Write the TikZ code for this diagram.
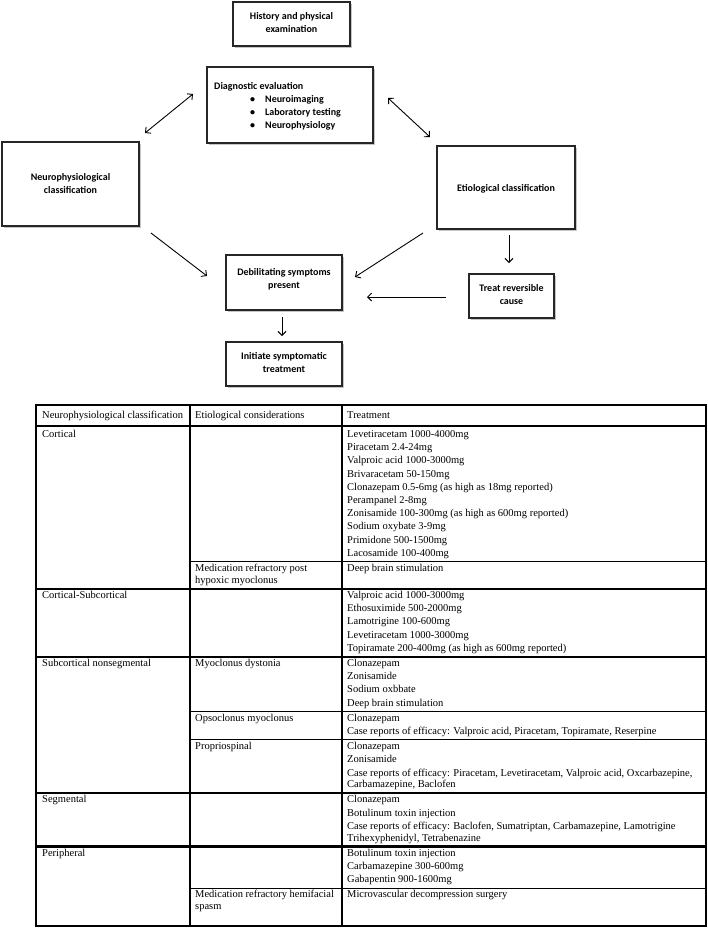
\documentclass[tikz,border=0pt]{standalone}
\usepackage{fontspec}
\setmainfont{Liberation Serif}
\newfontfamily\boxfont{Carlito}
\usetikzlibrary{arrows.meta,shadows}
\newcommand\ctext[2]{\parbox[t]{#1}{\centering #2}}
\newcommand\ltext[2]{\parbox[t]{#1}{\raggedright #2}}
\newcommand\nextitem{\\[1.5pt]}
\tikzset{
  flowbox/.style={draw=black!85, line width=1.5pt, fill=white, inner sep=0pt,
    drop shadow={shadow xshift=2pt, shadow yshift=-2pt, fill=black!45}},
  flowtext/.style={inner sep=0pt, anchor=base, font=\boxfont\bfseries\fontsize{10}{13}\selectfont},
  flowtextl/.style={inner sep=0pt, anchor=base west, font=\boxfont\bfseries\fontsize{10}{13}\selectfont},
  arr/.style={line width=0.9pt, -{Straight Barb[length=4pt,width=8pt]}},
  darr/.style={line width=0.9pt, {Straight Barb[length=4pt,width=8pt]}-{Straight Barb[length=4pt,width=8pt]}},
  cell/.style={inner sep=0pt, anchor=base west, font=\fontsize{10.5}{11.7}\selectfont},
  thickrule/.style={line width=2.4pt},
  thinrule/.style={line width=1pt},
  colrule/.style={line width=1.6pt}
}
\begin{document}
\begin{tikzpicture}[x=1pt,y=-1pt]
\useasboundingbox (0,0) rectangle (708,935);
% ---------- flowchart boxes ----------
\node[flowbox, minimum width=117pt, minimum height=44pt] (hist) at (291.5,24) {};
\node[flowbox, minimum width=166pt, minimum height=76pt] (diag) at (290,105) {};
\node[flowbox, minimum width=137pt, minimum height=84pt] (neuro) at (70.5,184) {};
\node[flowbox, minimum width=138pt, minimum height=83pt] (etio) at (506,187.5) {};
\node[flowbox, minimum width=116pt, minimum height=55pt] (debil) at (284,282.5) {};
\node[flowbox, minimum width=116pt, minimum height=44pt] (init) at (284,364) {};
\node[flowbox, minimum width=85pt, minimum height=44pt] (treat) at (511.5,296) {};
% ---------- flowchart texts ----------
\node[flowtext] (histT) at (291.5,19) {\ctext{110pt}{History and physical\\examination}};
\node[flowtextl] (diagT) at (214,89) {\ltext{155pt}{Diagnostic evaluation\\
\hspace*{36pt}\makebox[15pt][l]{•}Neuroimaging\\
\hspace*{36pt}\makebox[15pt][l]{•}Laboratory testing\\
\hspace*{36pt}\makebox[15pt][l]{•}Neurophysiology}};
\node[flowtext] (neuroT) at (70.5,180) {\ctext{130pt}{Neurophysiological\\classification}};
\node[flowtext] (etioT) at (506,191) {\ctext{130pt}{Etiological classification}};
\node[flowtext] (debilT) at (284,275) {\ctext{110pt}{Debilitating symptoms\\present}};
\node[flowtext] (initT) at (284,359) {\ctext{110pt}{Initiate symptomatic\\treatment}};
\node[flowtext] (treatT) at (511.5,291) {\ctext{80pt}{Treat reversible\\cause}};
% ---------- connectors ----------
\coordinate (a1s) at (145,133); \coordinate (a1e) at (193,94);
\coordinate (a2s) at (388,98);  \coordinate (a2e) at (430,137);
\coordinate (a3s) at (151,233); \coordinate (a3e) at (207,276);
\coordinate (a4s) at (423,233); \coordinate (a4e) at (355,277);
\coordinate (a5s) at (509,235); \coordinate (a5e) at (509,263);
\coordinate (a6s) at (446,297); \coordinate (a6e) at (367,297);
\coordinate (a7s) at (282,317); \coordinate (a7e) at (282,336);
\draw[darr] (a1s) -- (a1e);
\draw[darr] (a2s) -- (a2e);
\draw[arr] (a3s) -- (a3e);
\draw[arr] (a4s) -- (a4e);
\draw[arr] (a5s) -- (a5e);
\draw[arr] (a6s) -- (a6e);
\draw[arr] (a7s) -- (a7e);
% ---------- table rules ----------
\draw[colrule] (190,405) -- (190,926);
\draw[colrule] (342,405) -- (342,926);
\draw[thickrule] (36,426) -- (706,426);
\draw[thickrule] (36,588.7) -- (706,588.7);
\draw[thickrule] (36,656.7) -- (706,656.7);
\draw[thickrule] (36,793.2) -- (706,793.2);
\draw[thickrule] (36,846.5) -- (706,846.5);
\draw[thinrule] (190,561.8) -- (706,561.8);
\draw[thinrule] (190,711.5) -- (706,711.5);
\draw[thinrule] (190,739.9) -- (706,739.9);
\draw[thinrule] (190,888.1) -- (706,888.1);
\draw[thickrule] (36,405) rectangle (706,926);
% ---------- table text ----------
\node[cell] (h1) at (42,418) {Neurophysiological classification};
\node[cell] (h2) at (195,418) {Etiological considerations};
\node[cell] (h3) at (347,418) {Treatment};
\node[cell] (r1a) at (42,437.5) {Cortical};
\node[cell] (r1c) at (347,437.5) {\ltext{350pt}{Levetiracetam 1000-4000mg\nextitem
Piracetam 2.4-24mg\nextitem
Valproic acid 1000-3000mg\nextitem
Brivaracetam 50-150mg\nextitem
Clonazepam 0.5-6mg (as high as 18mg reported)\nextitem
Perampanel 2-8mg\nextitem
Zonisamide 100-300mg (as high as 600mg reported)\nextitem
Sodium oxybate 3-9mg\nextitem
Primidone 500-1500mg\nextitem
Lacosamide 100-400mg}};
\node[cell] (r2b) at (195,571.5) {\ltext{145pt}{Medication refractory post\\hypoxic myoclonus}};
\node[cell] (r2c) at (347,571.5) {Deep brain stimulation};
\node[cell] (r3a) at (42,598.4) {Cortical-Subcortical};
\node[cell] (r3c) at (347,598.4) {\ltext{350pt}{Valproic acid 1000-3000mg\nextitem
Ethosuximide 500-2000mg\nextitem
Lamotrigine 100-600mg\nextitem
Levetiracetam 1000-3000mg\nextitem
Topiramate 200-400mg (as high as 600mg reported)}};
\node[cell] (r4a) at (42,666.4) {Subcortical nonsegmental};
\node[cell] (r4b) at (195,666.4) {Myoclonus dystonia};
\node[cell] (r4c) at (347,666.4) {\ltext{350pt}{Clonazepam\nextitem
Zonisamide\nextitem
Sodium oxbbate\nextitem
Deep brain stimulation}};
\node[cell] (r5b) at (195,721.2) {Opsoclonus myoclonus};
\node[cell] (r5c) at (347,721.2) {\ltext{355pt}{Clonazepam\nextitem
Case reports of efficacy: Valproic acid, Piracetam, Topiramate, Reserpine}};
\node[cell] (r6b) at (195,749.6) {Propriospinal};
\node[cell] (r6c) at (347,749.6) {\ltext{355pt}{Clonazepam\nextitem
Zonisamide\nextitem
Case reports of efficacy: Piracetam, Levetiracetam, Valproic acid, Oxcarbazepine,\\
Carbamazepine, Baclofen}};
\node[cell] (r7a) at (42,802.9) {Segmental};
\node[cell] (r7c) at (347,802.9) {\ltext{355pt}{Clonazepam\nextitem
Botulinum toxin injection\nextitem
Case reports of efficacy: Baclofen, Sumatriptan, Carbamazepine, Lamotrigine\\
Trihexyphenidyl, Tetrabenazine}};
\node[cell] (r8a) at (42,856.2) {Peripheral};
\node[cell] (r8c) at (347,856.2) {\ltext{350pt}{Botulinum toxin injection\nextitem
Carbamazepine 300-600mg\nextitem
Gabapentin 900-1600mg}};
\node[cell] (r9b) at (195,897.8) {\ltext{145pt}{Medication refractory hemifacial\\spasm}};
\node[cell] (r9c) at (347,897.8) {Microvascular decompression surgery};
\end{tikzpicture}
\end{document}
